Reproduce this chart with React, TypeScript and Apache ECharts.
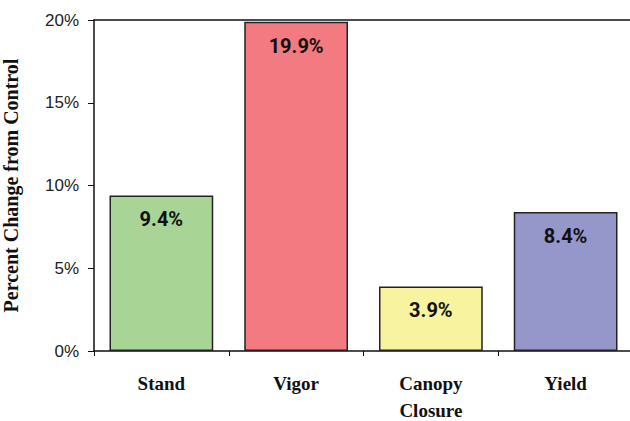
import React, { useEffect, useRef } from "react";
import * as echarts from "echarts";

const categories = ["Stand", "Vigor", "Canopy\nClosure", "Yield"];
const values = [9.4, 19.9, 3.9, 8.4];
const barColors = ["#a8d595", "#f27a80", "#f7f39e", "#9596c9"];
const yTicks = [0, 5, 10, 15, 20];

export default function App() {
  const ref = useRef<HTMLDivElement>(null);
  useEffect(() => {
    if (!ref.current) return;
    const chart = echarts.init(ref.current, null, { renderer: "svg" });
    chart.setOption({
      animation: false,
      grid: { left: 94, right: -3, top: 20, bottom: 70, containLabel: false, outerBoundsMode: "none" },
      xAxis: [
        {
          type: "category",
          data: categories,
          axisLine: { lineStyle: { color: "#111", width: 1.5 } },
          axisTick: { show: true, length: 5, alignWithLabel: false, lineStyle: { color: "#111", width: 1 } },
          axisLabel: {
            interval: 0,
            margin: 19,
            fontFamily: "Liberation Serif",
            fontWeight: "bold",
            fontSize: 19,
            color: "#111",
            lineHeight: 27,
          },
        },
        {
          type: "category",
          position: "top",
          data: categories,
          axisLine: { lineStyle: { color: "#111", width: 1.5 } },
          axisTick: { show: false },
          axisLabel: { show: false },
        },
      ],
      yAxis: {
        type: "value",
        min: yTicks[0],
        max: yTicks[yTicks.length - 1],
        interval: 5,
        name: "Percent Change from Control",
        nameLocation: "middle",
        nameGap: 73,
        nameTextStyle: {
          fontFamily: "Liberation Serif",
          fontWeight: "bold",
          fontSize: 20,
          color: "#111",
        },
        axisLine: { show: true, lineStyle: { color: "#111", width: 1.5 } },
        axisTick: { show: true, inside: false, length: 6, lineStyle: { color: "#111" } },
        splitLine: { show: false },
        axisLabel: {
          margin: 15,
          fontFamily: "Liberation Sans",
          fontSize: 17,
          color: "#222",
          formatter: (v: number) => v + "%",
        },
      },
      series: [
        {
          type: "bar",
          barWidth: "77%",
          data: values.map((v, i) => ({
            value: v,
            itemStyle: { color: barColors[i], borderColor: "#222", borderWidth: 1.5 },
          })),
          label: {
            show: true,
            position: "insideTop",
            distance: 14,
            fontFamily: "Roboto",
            fontWeight: "bold",
            fontSize: 20,
            color: "#111",
            formatter: (p: any) => p.value.toFixed(1) + "%",
          },
        },
      ],
    });
    return () => chart.dispose();
  }, []);
  return <div ref={ref} style={{ width: 630, height: 421, position: "fixed", left: 0, top: 0, background: "#fff" }} />;
}
